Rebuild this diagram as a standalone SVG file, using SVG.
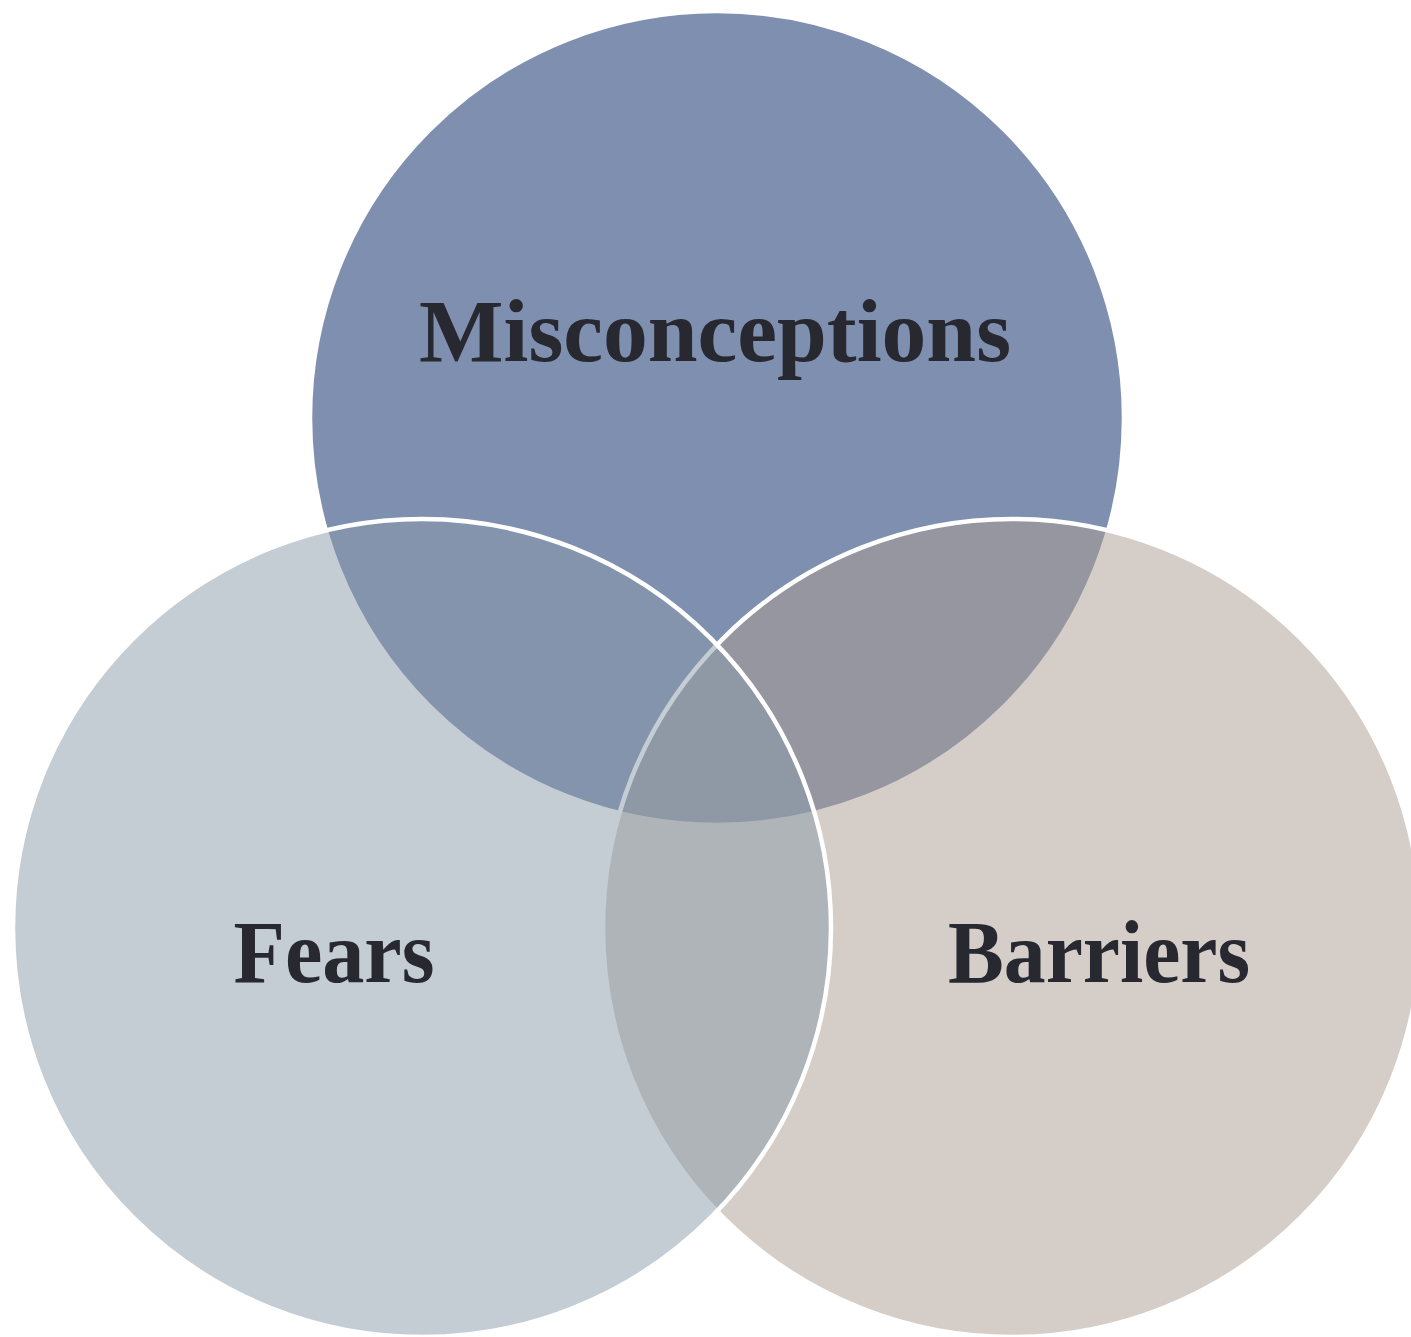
<svg xmlns="http://www.w3.org/2000/svg" width="1411" height="1337" viewBox="0 0 1411 1337">
<style>
.c{stroke:#ffffff;stroke-width:4.5}
.t{font-family:"Liberation Serif","Times New Roman",serif;font-weight:bold;font-size:89px;fill:#272830;text-anchor:middle}
</style>
<rect width="1411" height="1337" fill="#ffffff"/>
<g id="misconceptions">
<circle class="c" cx="717" cy="418" r="407" fill="#7F8FAF"/>
<text class="t" x="715" y="361" textLength="592" lengthAdjust="spacingAndGlyphs">Misconceptions</text>
</g>
<g id="barriers">
<circle class="c" cx="1012" cy="928" r="409" fill="#AB9D91" fill-opacity="0.5"/>
<text class="t" x="1099" y="982" textLength="302" lengthAdjust="spacingAndGlyphs">Barriers</text>
</g>
<g id="fears">
<circle class="c" cx="422" cy="928" r="409" fill="#8999A9" fill-opacity="0.5"/>
<text class="t" x="334" y="982" textLength="201" lengthAdjust="spacingAndGlyphs">Fears</text>
</g>
<g id="connectors"/>
</svg>
